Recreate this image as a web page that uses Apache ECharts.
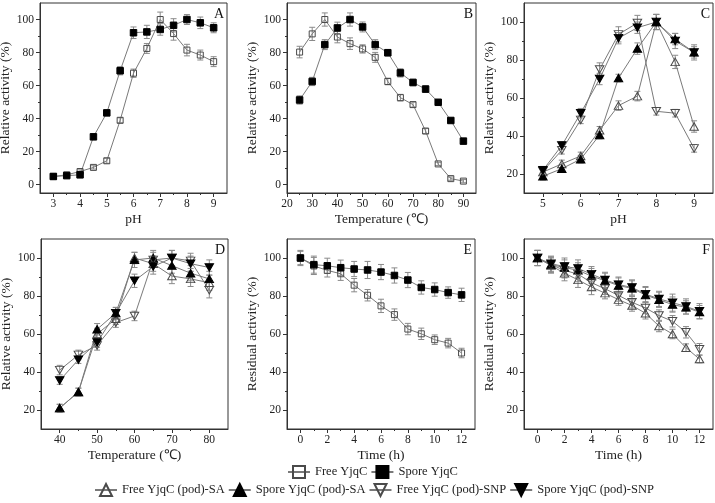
<!DOCTYPE html>
<html><head><meta charset="utf-8">
<script src="https://cdn.jsdelivr.net/npm/echarts@6/dist/echarts.min.js"></script>
<style>html,body{margin:0;padding:0;background:#fff}#c{width:715px;height:503px}</style>
</head><body><div id="c"></div>
<script>
// ---------- categories / x values ----------
const pH_A = [3,3.5,4,4.5,5,5.5,6,6.5,7,7.5,8,8.5,9];
const temp_B = [25,30,35,40,45,50,55,60,65,70,75,80,85,90];
const pH_C = [5,5.5,6,6.5,7,7.5,8,8.5,9];
const temp_D = [40,45,50,55,60,65,70,75,80];
const time_EF = [0,1,2,3,4,5,6,7,8,9,10,11,12];

// ---------- series values ----------
const A_free = [5,6,8,10.5,14.5,39,67.5,82.5,100,91.5,81.5,78.5,74.5];
const A_free_err = [1,1,1,1,1.5,1.5,2.5,3,4.5,4,3.5,3,3];
const A_spore = [5,5.5,6,29,43.5,69,92,92.5,94,96.5,100,98,95];
const A_spore_err = [1,1,1,1,1,2.5,3.5,4,3.5,4,3,3.5,3];

const B_free = [80.3,91.3,100,89.4,85.4,82.2,77.1,62.5,52.7,48.5,32.5,12.6,3.7,2.2];
const B_free_err = [3.5,4,4,3.5,3.5,2.5,3,2,2,1.5,1.5,1,1,1];
const B_spore = [51.3,62.5,84.8,94.9,100,95.5,84.8,79.9,67.7,61.9,57.9,49.9,38.9,26.4];
const B_spore_err = [2.5,2.5,3,3.5,4,3,3,2,2.5,2,2,1.5,1.5,1.5];

const C_freeSA = [21,25.3,29.5,43,56,61,100,79,45];
const C_freeSA_err = [2,2,2,2,2.5,2.5,4,3.5,3];
const C_sporeSA = [18.8,22.8,27.8,40.5,70.5,86,100,91,84];
const C_sporeSA_err = [2,2,2,2,2,3,4,3,3];
const C_freeSNP = [21.5,32.5,48.5,75,93.5,99.5,53,52,33.5];
const C_freeSNP_err = [2,2,2,3.5,4,4,2,2,2];
const C_sporeSNP = [22,35,52,70,91.5,97,100,90,84];
const C_sporeSNP_err = [2,2,2.5,3,3,3,4,4,4];

const D_freeSA = [21,29.5,60,68,100,97,90.5,89,87];
const D_freeSA_err = [2,2,3,3,3,4,4,4,4];
const D_sporeSA = [21,29.5,62.5,71,99,100,96,92,89];
const D_sporeSA_err = [2,2,3,3,4,4,4,4,4];
const D_freeSNP = [41,49,54,66,69.5,99,100,98.5,83];
const D_freeSNP_err = [2.5,2.5,2.5,2.5,2.5,4,4,4,4];
const D_sporeSNP = [35.5,46.5,55.5,71,88,95.5,100,97,95];
const D_sporeSNP_err = [2,2,2.5,3,3.5,4,4,4,4];

const E_free = [100,95.8,93.5,91.7,85.7,80.4,74.8,70.2,62.6,60.1,57,55.2,50];
const E_free_err = [3.5,4.5,3.5,3.5,3.5,3,3.5,3,3,3,2.5,2.5,2.5];
const E_spore = [100,96.5,95.9,94.9,94.2,93.7,92.6,90.8,88.4,84.5,83.4,81.8,80.6];
const E_spore_err = [4,4.5,4,4,4,4.5,4,4,4,3.5,3.5,3,3.5];

const F_freeSA = [100,96,92,88.5,84.7,81.5,78.1,75,70.9,64.2,60,52.8,46.8];
const F_freeSA_err = [4,4,4,4,4,3,3,3,3,3,2.5,2,2];
const F_sporeSA = [100,96.5,95,93.5,90.5,88,85.5,84,80.5,78,75.5,74,71.5];
const F_sporeSA_err = [4,4,4,4,4,4,4,4,4,4,4,3.5,3.5];
const F_freeSNP = [100,96.5,93.5,91.5,87,83.8,80.3,76.7,73.7,69.7,66.7,60.9,52];
const F_freeSNP_err = [4,4,4,4,4,3,3,3,3,3,3,3,3];
const F_sporeSNP = [100,97,95.5,94.5,91.5,88.5,86,84.5,81,78.5,76.5,74.5,72];
const F_sporeSNP_err = [4,4,4.5,4.5,4,4,4,4,4,4,4.5,4,4];

// ---------- tick labels ----------
const xTicks_A = [3,4,5,6,7,8,9];
const xMinor_A = [3.5,4.5,5.5,6.5,7.5,8.5];
const xTicks_B = [20,30,40,50,60,70,80,90];
const xMinor_B = [25,35,45,55,65,75,85];
const xTicks_C = [5,6,7,8,9];
const xMinor_C = [5.5,6.5,7.5,8.5];
const xTicks_D = [40,50,60,70,80];
const xMinor_D = [45,55,65,75];
const xTicks_EF = [0,2,4,6,8,10,12];
const xMinor_EF = [1,3,5,7,9,11];
const yTicks_AB = [0,20,40,60,80,100];
const yMinor_AB = [10,30,50,70,90];
const yTicks_CF = [20,40,60,80,100];
const yMinor_CF = [30,50,70,90];

const NAMES = ['Free YjqC','Spore YjqC','Free YjqC (pod)-SA','Spore YjqC (pod)-SA','Free YjqC (pod)-SNP','Spore YjqC (pod)-SNP'];

// ---------- styles ----------
const FONT = '"Liberation Serif","Times New Roman",serif';
const AX = '#333';
const LINE = '#7a7a7a';
const OPEN = '#4a4a4a';
const DOWN = 'path://M0,0L20,0L10,17.3Z';
const STY = {
  'Free YjqC': {symbol:'rect', size:6, fill:'rgba(255,255,255,0)', border:OPEN},
  'Spore YjqC': {symbol:'rect', size:6.5, fill:'#000', border:'#000'},
  'Free YjqC (pod)-SA': {symbol:'triangle', size:[8.5,7.5], fill:'rgba(255,255,255,0)', border:OPEN},
  'Spore YjqC (pod)-SA': {symbol:'triangle', size:[8.5,7.5], fill:'#000', border:'#000'},
  'Free YjqC (pod)-SNP': {symbol:DOWN, size:[8.5,7.5], fill:'rgba(255,255,255,0)', border:OPEN},
  'Spore YjqC (pod)-SNP': {symbol:DOWN, size:[8.5,7.5], fill:'#000', border:'#000'}
};

const panels = [
  {letter:'A', grid:{left:40, top:3, width:187, height:190},
   x:{min:2.5,max:9.5,ticks:xTicks_A,minor:xMinor_A,name:'pH'},
   y:{min:-5,max:110,ticks:yTicks_AB,minor:yMinor_AB,name:'Relative activity (%)'},
   s:[[NAMES[0],pH_A,A_free,A_free_err],[NAMES[1],pH_A,A_spore,A_spore_err]]},
  {letter:'B', grid:{left:287, top:3, width:189, height:190},
   x:{min:20,max:95,ticks:xTicks_B,minor:xMinor_B,name:'Temperature (\u2103)'},
   y:{min:-5,max:110,ticks:yTicks_AB,minor:yMinor_AB,name:'Relative activity (%)'},
   s:[[NAMES[0],temp_B,B_free,B_free_err],[NAMES[1],temp_B,B_spore,B_spore_err]]},
  {letter:'C', grid:{left:524, top:3, width:189, height:190},
   x:{min:4.5,max:9.5,ticks:xTicks_C,minor:xMinor_C,name:'pH'},
   y:{min:10,max:110,ticks:yTicks_CF,minor:yMinor_CF,name:'Relative activity (%)'},
   s:[[NAMES[2],pH_C,C_freeSA,C_freeSA_err],[NAMES[3],pH_C,C_sporeSA,C_sporeSA_err],
      [NAMES[4],pH_C,C_freeSNP,C_freeSNP_err],[NAMES[5],pH_C,C_sporeSNP,C_sporeSNP_err]]},
  {letter:'D', grid:{left:41, top:239, width:187, height:190},
   x:{min:35,max:85,ticks:xTicks_D,minor:xMinor_D,name:'Temperature (\u2103)'},
   y:{min:10,max:110,ticks:yTicks_CF,minor:yMinor_CF,name:'Relative activity (%)'},
   s:[[NAMES[2],temp_D,D_freeSA,D_freeSA_err],[NAMES[3],temp_D,D_sporeSA,D_sporeSA_err],
      [NAMES[4],temp_D,D_freeSNP,D_freeSNP_err],[NAMES[5],temp_D,D_sporeSNP,D_sporeSNP_err]]},
  {letter:'E', grid:{left:287, top:239, width:188, height:190},
   x:{min:-1,max:13,ticks:xTicks_EF,minor:xMinor_EF,name:'Time (h)'},
   y:{min:10,max:110,ticks:yTicks_CF,minor:yMinor_CF,name:'Residual activity (%)'},
   s:[[NAMES[0],time_EF,E_free,E_free_err],[NAMES[1],time_EF,E_spore,E_spore_err]]},
  {letter:'F', grid:{left:524, top:239, width:189, height:190},
   x:{min:-1,max:13,ticks:xTicks_EF,minor:xMinor_EF,name:'Time (h)'},
   y:{min:10,max:110,ticks:yTicks_CF,minor:yMinor_CF,name:'Residual activity (%)'},
   s:[[NAMES[2],time_EF,F_freeSA,F_freeSA_err],[NAMES[3],time_EF,F_sporeSA,F_sporeSA_err],
      [NAMES[4],time_EF,F_freeSNP,F_freeSNP_err],[NAMES[5],time_EF,F_sporeSNP,F_sporeSNP_err]]}
];

const grid = [], xAxis = [], yAxis = [], series = [], graphic = [];
function errRender(params, api) {
  const x = api.value(0), y = api.value(1), e = api.value(2);
  const hi = api.coord([x, y + e]), lo = api.coord([x, y - e]);
  const w = 3, st = {stroke:'#8a8a8a', lineWidth:1};
  return {type:'group', children:[
    {type:'line', shape:{x1:hi[0], y1:hi[1], x2:lo[0], y2:lo[1]}, style:st},
    {type:'line', shape:{x1:hi[0]-w, y1:hi[1], x2:hi[0]+w, y2:hi[1]}, style:st},
    {type:'line', shape:{x1:lo[0]-w, y1:lo[1], x2:lo[0]+w, y2:lo[1]}, style:st}
  ]};
}
panels.forEach((p, i) => {
  grid.push(Object.assign({show:true, borderColor:AX, borderWidth:1, backgroundColor:'rgba(0,0,0,0)', containLabel:false, outerBoundsMode:'none'}, p.grid));
  const base = {gridIndex:i, type:'value', splitLine:{show:false}};
  xAxis.push(Object.assign({}, base, {min:p.x.min, max:p.x.max, position:'bottom',
    name:p.x.name, nameLocation:'middle', nameGap:19,
    nameTextStyle:{fontFamily:FONT, fontSize:13.5, color:'#222'},
    axisLine:{show:true, onZero:false, lineStyle:{color:AX, width:1}},
    axisTick:{show:true, inside:false, length:4, customValues:p.x.ticks, lineStyle:{color:AX}},
    axisLabel:{show:true, customValues:p.x.ticks, margin:5, fontFamily:FONT, fontSize:11.5, color:'#222'}}));
  xAxis.push(Object.assign({}, base, {min:p.x.min, max:p.x.max, position:'bottom',
    axisLine:{show:false, onZero:false},
    axisTick:{show:true, inside:false, length:2, customValues:p.x.minor, lineStyle:{color:AX}},
    axisLabel:{show:false}}));
  yAxis.push(Object.assign({}, base, {min:p.y.min, max:p.y.max, position:'left',
    name:p.y.name, nameLocation:'middle', nameGap:22,
    nameTextStyle:{fontFamily:FONT, fontSize:13.5, color:'#222'},
    axisLine:{show:true, onZero:false, lineStyle:{color:AX, width:1}},
    axisTick:{show:true, inside:false, length:4, customValues:p.y.ticks, lineStyle:{color:AX}},
    axisLabel:{show:true, customValues:p.y.ticks, margin:6, fontFamily:FONT, fontSize:11.5, color:'#222'}}));
  yAxis.push(Object.assign({}, base, {min:p.y.min, max:p.y.max, position:'left',
    axisLine:{show:false, onZero:false},
    axisTick:{show:true, inside:false, length:2, customValues:p.y.minor, lineStyle:{color:AX}},
    axisLabel:{show:false}}));
  p.s.forEach(([name, xs, ys, es]) => {
    const st = STY[name];
    series.push({type:'custom', name:name + ' error', xAxisIndex:2*i, yAxisIndex:2*i, silent:true, z:2,
      renderItem:errRender, data:xs.map((x, k) => [x, ys[k], es[k]])});
    series.push({type:'line', name:name, xAxisIndex:2*i, yAxisIndex:2*i, z:3,
      symbol:st.symbol, symbolSize:st.size, showAllSymbol:true,
      itemStyle:{color:st.fill, borderColor:st.border, borderWidth:1, opacity:1},
      lineStyle:{color:LINE, width:1},
      emphasis:{disabled:true},
      data:xs.map((x, k) => [x, ys[k]])});
  });
  const g = p.grid;
  graphic.push({type:'text', x:g.left + g.width - 3, y:g.top + 11, silent:true,
    style:{text:p.letter, fontFamily:FONT, fontSize:14, fill:'#111', align:'right', verticalAlign:'middle'}});
});

const legendBase = {orient:'horizontal', padding:0, itemWidth:22, itemHeight:15, itemGap:3,
  selectedMode:false, textStyle:{fontFamily:FONT, fontSize:12.5, color:'#222'}};
const chart = echarts.init(document.getElementById('c'), null, {renderer:'canvas'});
chart.setOption({
  animation:false,
  backgroundColor:'#fff',
  grid, xAxis, yAxis, series, graphic,
  legend:[
    Object.assign({}, legendBase, {data:NAMES.slice(0,2), left:287, top:465}),
    Object.assign({}, legendBase, {data:NAMES.slice(2), left:94, top:483})
  ]
});
</script></body></html>
